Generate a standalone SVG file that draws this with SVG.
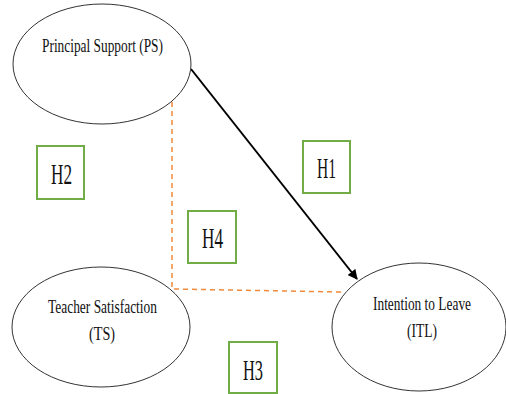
<svg xmlns="http://www.w3.org/2000/svg" width="506" height="394" viewBox="0 0 506 394">
<style>
.node ellipse{fill:#fff;stroke:#333;stroke-width:1}
.t{font-family:"Liberation Serif","Times New Roman",serif;fill:#111}
.lbl{font-size:19px}
.h{font-size:29px}
.hbox rect{fill:#fff;stroke:#70AD47;stroke-width:2}
.dash{fill:none;stroke:#F08A3C;stroke-width:1.5;stroke-dasharray:5 4}
</style>
<defs>
<marker id="ah" markerWidth="10" markerHeight="10" refX="9" refY="5" orient="auto" markerUnits="userSpaceOnUse" viewBox="0 0 10 10">
<path d="M0,0 L10,5 L0,10 Z" fill="#000"/>
</marker>
</defs>
<rect width="506" height="394" fill="#fff"/>
<g id="connectors">
<polyline class="dash" points="172,102 172,289 342,292"/>
<line x1="191" y1="69" x2="357" y2="279" stroke="#000" stroke-width="2" marker-end="url(#ah)"/>
</g>
<g id="PS" class="node">
<ellipse cx="102" cy="64" rx="89" ry="60"/>
<text class="t lbl" x="42" y="52" textLength="121" lengthAdjust="spacingAndGlyphs">Principal Support (PS)</text>
</g>
<g id="TS" class="node">
<ellipse cx="101" cy="327" rx="89" ry="60"/>
<text class="t lbl" x="48" y="313" textLength="109" lengthAdjust="spacingAndGlyphs">Teacher Satisfaction</text>
<text class="t lbl" x="89" y="340" textLength="26" lengthAdjust="spacingAndGlyphs">(TS)</text>
</g>
<g id="ITL" class="node">
<ellipse cx="419" cy="327" rx="87" ry="64"/>
<text class="t lbl" x="373" y="310" textLength="98" lengthAdjust="spacingAndGlyphs">Intention to Leave</text>
<text class="t lbl" x="407" y="337" textLength="30" lengthAdjust="spacingAndGlyphs">(ITL)</text>
</g>
<g id="H1" class="hbox">
<rect x="303" y="141" width="47" height="52"/>
<text class="t h" x="317" y="178" textLength="19" lengthAdjust="spacingAndGlyphs">H1</text>
</g>
<g id="H2" class="hbox">
<rect x="37" y="146" width="47" height="53"/>
<text class="t h" x="51" y="184" textLength="21" lengthAdjust="spacingAndGlyphs">H2</text>
</g>
<g id="H3" class="hbox">
<rect x="229" y="342" width="48" height="51"/>
<text class="t h" x="243" y="380" textLength="20" lengthAdjust="spacingAndGlyphs">H3</text>
</g>
<g id="H4" class="hbox">
<rect x="188" y="211" width="48" height="52"/>
<text class="t h" x="202" y="248" textLength="21" lengthAdjust="spacingAndGlyphs">H4</text>
</g>
</svg>
